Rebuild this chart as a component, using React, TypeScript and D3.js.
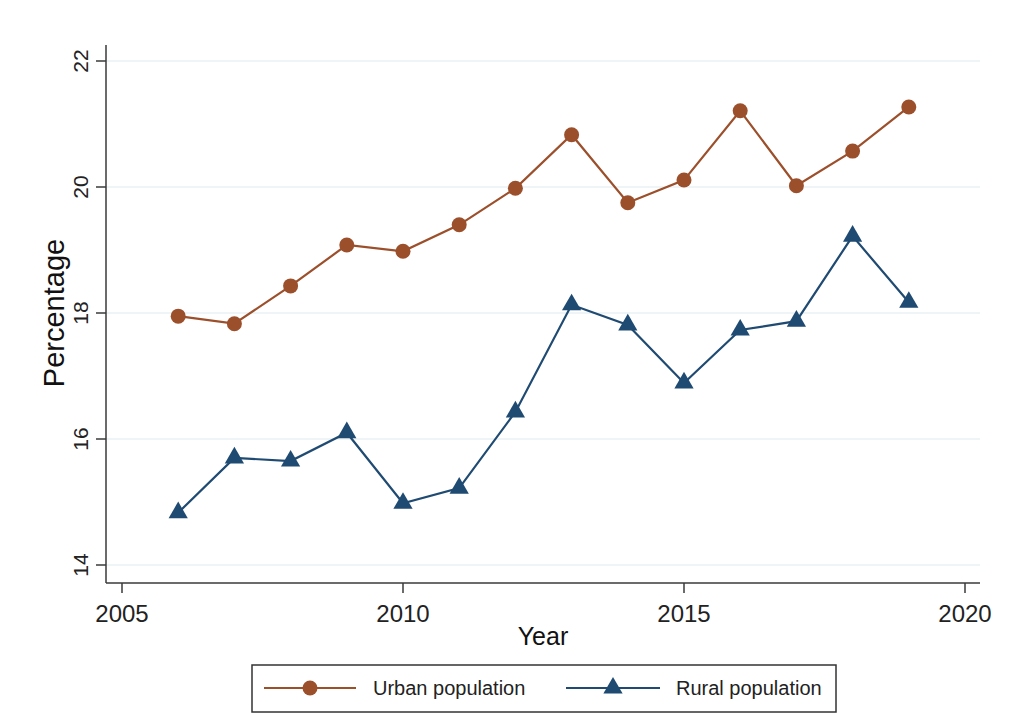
import React from 'react';
import * as d3 from 'd3';

// Data
const years = [2006, 2007, 2008, 2009, 2010, 2011, 2012, 2013, 2014, 2015, 2016, 2017, 2018, 2019];
const urban = [17.95, 17.83, 18.43, 19.08, 18.98, 19.40, 19.98, 20.83, 19.75, 20.11, 21.21, 20.02, 20.57, 21.27];
const rural = [14.83, 15.70, 15.65, 16.10, 14.98, 15.22, 16.43, 18.13, 17.81, 16.89, 17.73, 17.87, 19.22, 18.17];
const xTicks = [2005, 2010, 2015, 2020];
const yTicks = [14, 16, 18, 20, 22];

const URBAN_COLOR = '#9c4f2b';
const RURAL_COLOR = '#1f4a72';
const AXIS_COLOR = '#3a3a3a';
const GRID_COLOR = '#eaf2f3';
const FONT = 'Liberation Sans, Arial, sans-serif';

const width = 1024;
const height = 724;

const x = d3.scaleLinear().domain([2005, 2020]).range([122, 965]);
const y = d3.scaleLinear().domain([14, 22]).range([565, 61]);

const axisLeft = 106;
const axisRight = 980;
const axisTop = 45;
const axisBottom = 583;

const triangle = d3.symbol().type(d3.symbolTriangle).size(160);

const App: React.FC = () => {
  const line = d3.line<number>()
    .x((_, i) => x(years[i]))
    .y(d => y(d));

  return (
    <svg
      width={width}
      height={height}
      style={{ position: 'absolute', left: 0, top: 0, background: '#fff' }}
      fontFamily={FONT}
    >
      {/* gridlines */}
      {yTicks.map(t => (
        <line key={'g' + t} x1={axisLeft} x2={axisRight} y1={y(t)} y2={y(t)} stroke={GRID_COLOR} strokeWidth={1.5} />
      ))}

      {/* y axis */}
      <line x1={axisLeft} x2={axisLeft} y1={axisTop} y2={axisBottom} stroke={AXIS_COLOR} strokeWidth={1.5} />
      {yTicks.map(t => (
        <g key={'y' + t}>
          <line x1={axisLeft - 10} x2={axisLeft} y1={y(t)} y2={y(t)} stroke={AXIS_COLOR} strokeWidth={1.5} />
          <text
            transform={`translate(88,${y(t)}) rotate(-90)`}
            textAnchor="middle"
            fontSize={21}
            fill="#222"
          >
            {t}
          </text>
        </g>
      ))}

      {/* x axis */}
      <line x1={axisLeft} x2={axisRight} y1={axisBottom} y2={axisBottom} stroke={AXIS_COLOR} strokeWidth={1.5} />
      {xTicks.map(t => (
        <g key={'x' + t}>
          <line x1={x(t)} x2={x(t)} y1={axisBottom} y2={axisBottom + 10} stroke={AXIS_COLOR} strokeWidth={1.5} />
          <text x={x(t)} y={622} textAnchor="middle" fontSize={24} fill="#222">{t}</text>
        </g>
      ))}

      {/* axis titles */}
      <text transform="translate(64,313) rotate(-90)" textAnchor="middle" fontSize={29} fill="#111">Percentage</text>
      <text x={543} y={645} textAnchor="middle" fontSize={25} fill="#111">Year</text>

      {/* urban series */}
      <path d={line(urban) || ''} fill="none" stroke={URBAN_COLOR} strokeWidth={2.2} />
      {urban.map((v, i) => (
        <circle key={'u' + i} cx={x(years[i])} cy={y(v)} r={7.5} fill={URBAN_COLOR} />
      ))}

      {/* rural series */}
      <path d={line(rural) || ''} fill="none" stroke={RURAL_COLOR} strokeWidth={2.2} />
      {rural.map((v, i) => (
        <path key={'r' + i} d={triangle() || ''} transform={`translate(${x(years[i])},${y(v)})`} fill={RURAL_COLOR} />
      ))}

      {/* legend */}
      <rect x={252} y={665} width={584} height={47} fill="#fff" stroke="#333" strokeWidth={1.5} />
      <line x1={264} x2={356} y1={688} y2={688} stroke={URBAN_COLOR} strokeWidth={2.2} />
      <circle cx={310} cy={688} r={7.5} fill={URBAN_COLOR} />
      <text x={373} y={695} fontSize={20} fill="#222">Urban population</text>
      <line x1={566} x2={660} y1={688} y2={688} stroke={RURAL_COLOR} strokeWidth={2.2} />
      <path d={triangle() || ''} transform="translate(613,688)" fill={RURAL_COLOR} />
      <text x={676} y={695} fontSize={20} fill="#222">Rural population</text>
    </svg>
  );
};

export default App;
